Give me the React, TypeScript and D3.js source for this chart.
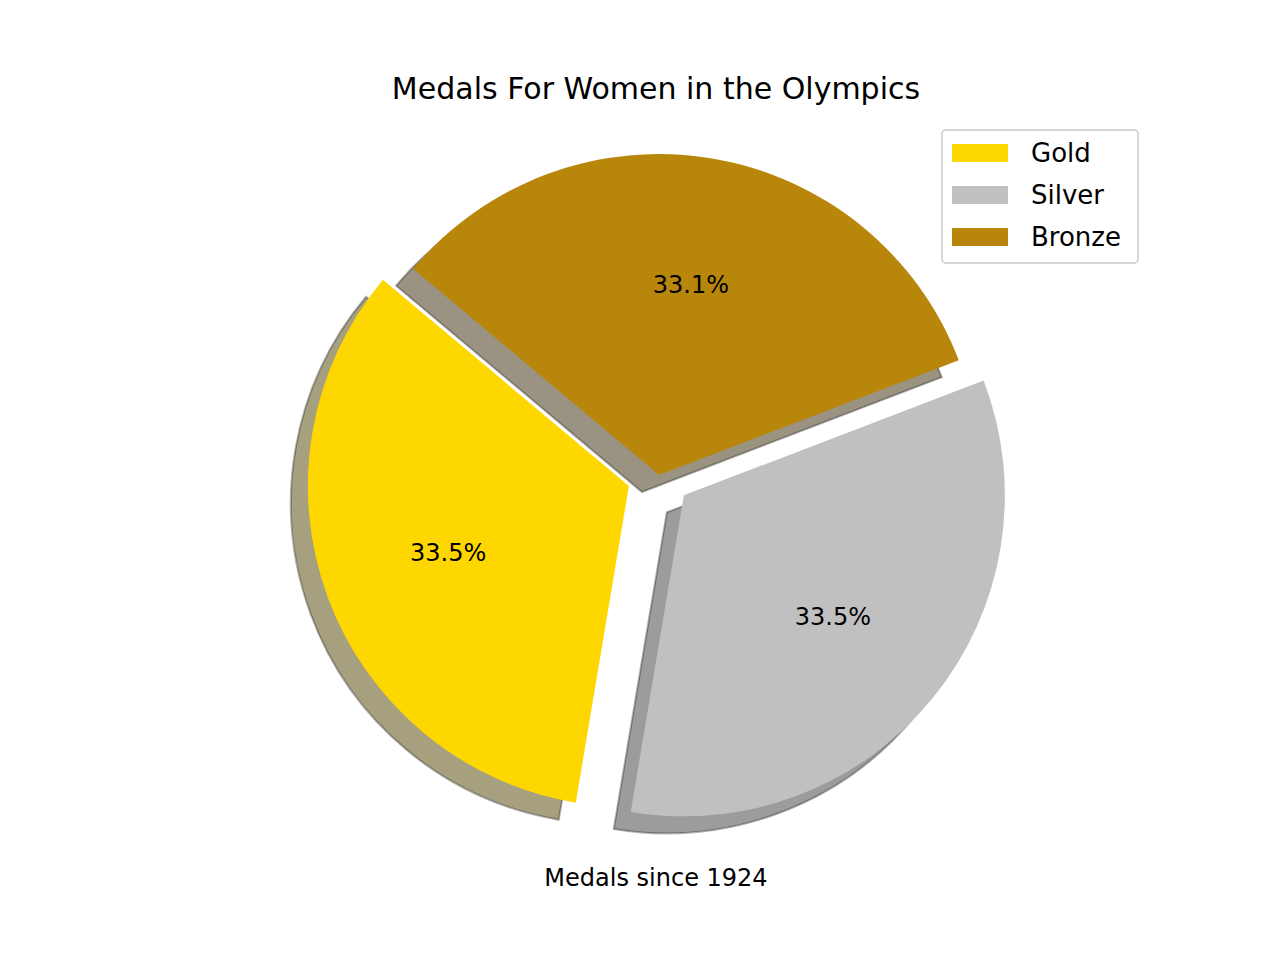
import React from 'react';
import * as d3 from 'd3';

const labels = ['Gold', 'Silver', 'Bronze'];
const values = [33.5, 33.5, 33.1];
const colors = ['#FFD700', '#C0C0C0', '#B8860B'];
const explode = [0.1, 0.1, 0];

const W = 1280;
const H = 960;
const cx = 659;
const cy = 475;
const R = 321;
const startDeg = 140;
const font = 'DejaVu Sans, sans-serif';

function shadowColor(c: string) {
  const rgb = d3.rgb(c);
  return `rgba(${rgb.r * 0.3},${rgb.g * 0.3},${rgb.b * 0.3},0.5)`;
}

export default function App() {
  const s = (Math.PI / 180) * (90 - startDeg);
  const pie = d3.pie<number>().sort(null).startAngle(s).endAngle(s - 2 * Math.PI);
  const arcs = pie(values);
  const arc = d3.arc<d3.PieArcDatum<number>>().innerRadius(0).outerRadius(R);
  const off = (a: d3.PieArcDatum<number>, f: number) => {
    const m = (a.startAngle + a.endAngle) / 2;
    return [Math.sin(m) * f * R, -Math.cos(m) * f * R];
  };
  const sh = 0.02 * 0.5 * 992 * (2.2 / 2.2);
  return (
    <svg width={W} height={H} style={{ display: 'block', margin: -8 }}>
      <rect width={W} height={H} fill="#fff" />
      {arcs.map((a, i) => {
        const [dx, dy] = off(a, explode[i]);
        return (
          <path key={'s' + i} d={arc(a)!} transform={`translate(${cx + dx - 17},${cy + dy + 17})`}
            fill={shadowColor(colors[i])} stroke="rgba(0,0,0,0.3)" strokeWidth={2} />
        );
      })}
      {arcs.map((a, i) => {
        const [dx, dy] = off(a, explode[i]);
        return <path key={'w' + i} d={arc(a)!} transform={`translate(${cx + dx},${cy + dy})`} fill={colors[i]} />;
      })}
      {arcs.map((a, i) => {
        const [dx, dy] = off(a, explode[i] + 0.6);
        return (
          <text key={'t' + i} x={cx + dx} y={cy + dy} textAnchor="middle" dominantBaseline="central"
            fontFamily={font} fontSize={24}>{values[i].toFixed(1)}%</text>
        );
      })}
      <text x={656} y={88} textAnchor="middle" dominantBaseline="central" fontFamily={font} fontSize={30}>Medals For Women in the Olympics</text>
      <text x={656} y={878} textAnchor="middle" dominantBaseline="central" fontFamily={font} fontSize={24}>Medals since 1924</text>
      <g>
        <rect x={942} y={130} width={196} height={133} rx={4} fill="#fff" stroke="#d6d6d6" strokeWidth={2} />
        {labels.map((l, i) => (
          <g key={l}>
            <rect x={952} y={144 + i * 42} width={56} height={18} fill={colors[i]} />
            <text x={1031} y={153 + i * 42} dominantBaseline="central" fontFamily={font} fontSize={26}>{l}</text>
          </g>
        ))}
      </g>
    </svg>
  );
}
